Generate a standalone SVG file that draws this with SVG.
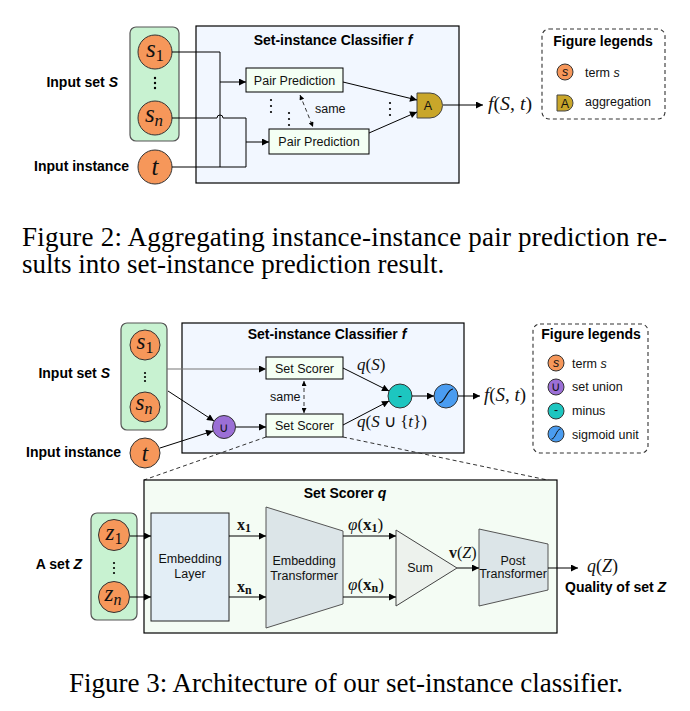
<svg xmlns="http://www.w3.org/2000/svg" width="690" height="711" viewBox="0 0 690 711">
<defs>
<marker id="ah" viewBox="0 0 10 10" refX="10" refY="5" markerWidth="8" markerHeight="7" markerUnits="userSpaceOnUse" orient="auto-start-reverse">
<path d="M0,0 L10,5 L0,10 Z" fill="#000"/>
</marker>
<marker id="ahs" viewBox="0 0 10 10" refX="10" refY="5" markerWidth="6" markerHeight="5" markerUnits="userSpaceOnUse" orient="auto-start-reverse">
<path d="M0,0 L10,5 L0,10 Z" fill="#000"/>
</marker>
</defs>
<style>
.lbl{font-family:"Liberation Sans",Arial,sans-serif;font-weight:bold;font-size:14px;fill:#000}
.t{font-family:"Liberation Sans",Arial,sans-serif;font-size:12.5px;fill:#111}
.m{font-family:"Liberation Serif","Times New Roman",serif;fill:#111}
.i{font-style:italic}
.cap{font-family:"Liberation Serif","Times New Roman",serif;font-size:27px;fill:#000}
.term{fill:#f6975a;stroke:#333;stroke-width:1}
.grp{fill:#c8f2d1;stroke:#555;stroke-width:1.2}
.box{fill:#f2f7ff;stroke:#000;stroke-width:1.2}
.pp{fill:#f4fff4;stroke:#000;stroke-width:1}
.leg{fill:#fff;stroke:#333;stroke-width:1.1;stroke-dasharray:4 3}
.ln{fill:none;stroke:#000;stroke-width:1}
.gl{fill:none;stroke:#777;stroke-width:1.2}
.dash{fill:none;stroke:#333;stroke-width:1;stroke-dasharray:4 3}
.dot{fill:#000}
.trap{fill:#dce5e8;stroke:#555;stroke-width:1}
</style>

<!-- ================= Figure 2 ================= -->
<g id="fig2-inputs">
<text class="lbl" x="118" y="87" text-anchor="end">Input set <tspan font-style="italic">S</tspan></text>
<text class="lbl" x="129" y="171" text-anchor="end">Input instance</text>
<rect class="grp" x="130" y="27" width="49" height="114" rx="6"/>
</g>
<g id="f2-s1"><circle class="term" cx="155" cy="52" r="17"/><text class="m" x="155" y="57" text-anchor="middle" font-size="25"><tspan class="i">s</tspan><tspan font-size="17" dy="4">1</tspan></text></g>
<g id="f2-dots"><circle class="dot" cx="155" cy="78" r="1.2"/><circle class="dot" cx="155" cy="83" r="1.2"/><circle class="dot" cx="155" cy="88" r="1.2"/></g>
<g id="f2-sn"><circle class="term" cx="155" cy="118" r="17"/><text class="m" x="154" y="122" text-anchor="middle" font-size="25"><tspan class="i">s</tspan><tspan class="i" font-size="17" dy="4">n</tspan></text></g>
<g id="f2-t"><circle class="term" cx="155" cy="167" r="17"/><text class="m i" x="155" y="175" text-anchor="middle" font-size="25">t</text></g>

<g id="f2-classifier">
<rect class="box" x="196" y="26" width="263" height="157"/>
<text class="lbl" x="333" y="45" text-anchor="middle" font-size="13.5">Set-instance Classifier <tspan font-style="italic">f</tspan></text>
</g>
<g id="f2-pp1"><rect class="pp" x="246" y="68" width="97" height="24"/><text class="t" x="294.5" y="85" text-anchor="middle" font-size="13">Pair Prediction</text></g>
<g id="f2-pp2"><rect class="pp" x="269" y="129" width="100" height="25"/><text class="t" x="319" y="146" text-anchor="middle" font-size="13">Pair Prediction</text></g>
<g id="f2-agg"><path d="M417,93 H430 A12.5,12.5 0 0 1 430,118 H417 Z" fill="#c9a62a" stroke="#444" stroke-width="1"/><text class="t" x="428" y="110" text-anchor="middle" font-size="13">A</text></g>
<g id="f2-out"><text class="m" x="488" y="110" font-size="19" textLength="44" lengthAdjust="spacingAndGlyphs"><tspan class="i">f</tspan>(<tspan class="i">S</tspan>, <tspan class="i">t</tspan>)</text></g>
<g id="f2-legend">
<rect class="leg" x="542" y="29" width="123" height="90" rx="7"/>
<text class="lbl" x="603" y="46" text-anchor="middle">Figure legends</text>
<circle class="term" cx="565" cy="72" r="8"/><text class="t i" x="565" y="76" text-anchor="middle" font-size="11">s</text>
<text class="t" x="585" y="77">term <tspan font-style="italic">s</tspan></text>
<path d="M557,95 H565 A8,8 0 0 1 565,111 H557 Z" fill="#c9a62a" stroke="#444" stroke-width="1"/><text class="t" x="565" y="107.5" text-anchor="middle" font-size="11">A</text>
<text class="t" x="585" y="106">aggregation</text>
</g>

<g id="f2-connectors">
<path class="ln" d="M172,52 H220 V167"/>
<path class="ln" d="M172,167 H246"/>
<path class="ln" d="M172,118 H217 A3,3 0 0 1 223,118 H246 V167"/>
<path class="ln" d="M220,82 H246" marker-end="url(#ah)"/>
<path class="ln" d="M246,142 H269" marker-end="url(#ah)"/>
<path class="ln" d="M343,82 L417,100" marker-end="url(#ah)"/>
<path class="ln" d="M369,133 L417,112" marker-end="url(#ah)"/>
<path class="ln" d="M443,105 H483" marker-end="url(#ah)"/>
<path class="dash" d="M300,95 L313,127" marker-start="url(#ahs)" marker-end="url(#ahs)"/>
<text class="t" x="315" y="113">same</text>
<g class="dot">
<circle cx="271" cy="100" r="1.1"/><circle cx="271" cy="106" r="1.1"/><circle cx="271" cy="112" r="1.1"/>
<circle cx="289" cy="113" r="1.1"/><circle cx="289" cy="119" r="1.1"/><circle cx="289" cy="125" r="1.1"/>
<circle cx="390" cy="103" r="1.1"/><circle cx="390" cy="109" r="1.1"/><circle cx="390" cy="115" r="1.1"/>
</g>
</g>

<g id="caption2">
<text class="cap" x="22" y="246" textLength="645" lengthAdjust="spacing">Figure 2: Aggregating instance-instance pair prediction re-</text>
<text class="cap" x="22" y="273">sults into set-instance prediction result.</text>
</g>

<!-- ================= Figure 3 ================= -->
<g id="f3-inputs">
<text class="lbl" x="110" y="378" text-anchor="end" font-size="13.5">Input set <tspan font-style="italic">S</tspan></text>
<text class="lbl" x="121" y="457" text-anchor="end" font-size="13.5">Input instance</text>
<rect class="grp" x="121" y="323" width="46" height="107" rx="6"/>
</g>
<g id="f3-s1"><circle class="term" cx="145" cy="345" r="15"/><text class="m" x="145" y="349" text-anchor="middle" font-size="23"><tspan class="i">s</tspan><tspan font-size="16" dy="4">1</tspan></text></g>
<g id="f3-dots"><circle class="dot" cx="145" cy="373" r="1.1"/><circle class="dot" cx="145" cy="377" r="1.1"/><circle class="dot" cx="145" cy="381" r="1.1"/></g>
<g id="f3-sn"><circle class="term" cx="145" cy="407" r="15"/><text class="m" x="144" y="410" text-anchor="middle" font-size="23"><tspan class="i">s</tspan><tspan class="i" font-size="16" dy="4">n</tspan></text></g>
<g id="f3-t"><circle class="term" cx="145" cy="453" r="15"/><text class="m i" x="145" y="461" text-anchor="middle" font-size="23">t</text></g>

<g id="f3-classifier">
<rect class="box" x="182" y="323" width="282" height="130"/>
<text class="lbl" x="327" y="339" text-anchor="middle" font-size="13">Set-instance Classifier <tspan font-style="italic">f</tspan></text>
</g>
<g id="f3-ss1"><rect class="pp" x="266" y="357" width="77" height="22"/><text class="t" x="304.5" y="372.5" text-anchor="middle" font-size="12">Set Scorer</text></g>
<g id="f3-ss2"><rect class="pp" x="266" y="414" width="77" height="23"/><text class="t" x="304.5" y="430" text-anchor="middle" font-size="12">Set Scorer</text></g>
<g id="f3-union"><circle cx="224" cy="427" r="11.5" fill="#9b6fd6" stroke="#333" stroke-width="1"/><text class="t" x="224" y="432" text-anchor="middle" font-size="14">∪</text></g>
<g id="f3-minus"><circle cx="400" cy="396" r="12" fill="#1dc6c0" stroke="#333" stroke-width="1"/><text class="t" x="400" y="400" text-anchor="middle" font-size="13">-</text></g>
<g id="f3-sigmoid"><circle cx="446" cy="396" r="12" fill="#4a9cf0" stroke="#333" stroke-width="1"/><path d="M439,403 C445,403 447,389 453,389" fill="none" stroke="#111" stroke-width="1.2"/></g>
<g id="f3-out"><text class="m" x="484" y="401" font-size="18" textLength="42" lengthAdjust="spacingAndGlyphs"><tspan class="i">f</tspan>(<tspan class="i">S</tspan>, <tspan class="i">t</tspan>)</text></g>
<g id="f3-legend">
<rect class="leg" x="533" y="324" width="115" height="129" rx="7"/>
<text class="lbl" x="591" y="339" text-anchor="middle" font-size="13.5">Figure legends</text>
<circle class="term" cx="556" cy="363" r="8"/><text class="t i" x="556" y="367" text-anchor="middle" font-size="10.5">s</text>
<text class="t" x="572" y="368" font-size="12">term <tspan font-style="italic">s</tspan></text>
<circle cx="556" cy="387" r="8" fill="#9b6fd6" stroke="#333" stroke-width="1"/><text class="t" x="556" y="391" text-anchor="middle" font-size="11">∪</text>
<text class="t" x="572" y="391" font-size="12">set union</text>
<circle cx="556" cy="411" r="8" fill="#1dc6c0" stroke="#333" stroke-width="1"/><text class="t" x="556" y="414" text-anchor="middle" font-size="11">-</text>
<text class="t" x="572" y="415" font-size="12">minus</text>
<circle cx="556" cy="434" r="8" fill="#4a9cf0" stroke="#333" stroke-width="1"/><path d="M551.5,439 C555.5,439 556.5,429 560.5,429" fill="none" stroke="#111" stroke-width="1"/>
<text class="t" x="572" y="439" font-size="12">sigmoid unit</text>
</g>

<g id="f3-connectors">
<path class="gl" d="M167,369 H266" marker-end="url(#ah)"/>
<path class="ln" d="M168,391 L214,421" marker-end="url(#ah)"/>
<path class="ln" d="M160,448 L213,431" marker-end="url(#ah)"/>
<path class="ln" d="M236,427 H266" marker-end="url(#ah)"/>
<path class="dash" d="M304,381 V413" marker-start="url(#ahs)" marker-end="url(#ahs)"/>
<text class="t" x="270" y="401" font-size="11.5">same</text>
<path class="ln" d="M343,368 L389,391" marker-end="url(#ah)"/>
<path class="ln" d="M343,425 L389,401" marker-end="url(#ah)"/>
<path class="ln" d="M412,396 H434" marker-end="url(#ah)"/>
<path class="ln" d="M458,396 H480" marker-end="url(#ah)"/>
<text class="m" x="357" y="370" font-size="17"><tspan class="i">q</tspan>(<tspan class="i">S</tspan>)</text>
<text class="m" x="357" y="427" font-size="17"><tspan class="i">q</tspan>(<tspan class="i">S</tspan> ∪ {<tspan class="i">t</tspan>})</text>
<path class="dash" d="M266,437 L144,480"/>
<path class="dash" d="M343,437 L557,482"/>
</g>

<g id="f3-scorer">
<rect x="144" y="480" width="413" height="153" fill="#f4fcf4" stroke="#000" stroke-width="1.2"/>
<text class="lbl" x="345" y="498" text-anchor="middle" font-size="13.5">Set Scorer <tspan font-style="italic">q</tspan></text>
</g>
<g id="f3-setZ">
<text class="lbl" x="82" y="569" text-anchor="end" font-size="13.5">A set <tspan font-style="italic">Z</tspan></text>
<rect class="grp" x="91" y="513" width="46" height="107" rx="6"/>
<circle class="term" cx="114" cy="535" r="15.5"/><text class="m" x="114" y="540" text-anchor="middle" font-size="23"><tspan class="i">z</tspan><tspan font-size="16" dy="4">1</tspan></text>
<circle class="dot" cx="114" cy="563" r="1.1"/><circle class="dot" cx="114" cy="568" r="1.1"/><circle class="dot" cx="114" cy="573" r="1.1"/>
<circle class="term" cx="114" cy="597" r="15.5"/><text class="m" x="113" y="601" text-anchor="middle" font-size="23"><tspan class="i">z</tspan><tspan class="i" font-size="16" dy="4">n</tspan></text>
</g>
<g id="f3-embed"><rect x="151" y="513" width="78" height="108" fill="#e3eef6" stroke="#222" stroke-width="1"/><text class="t" x="190" y="563" text-anchor="middle" font-size="12.5">Embedding</text><text class="t" x="190" y="577.5" text-anchor="middle" font-size="12.5">Layer</text></g>
<g id="f3-etrans"><polygon class="trap" points="266,507 343,531 343,604 266,628"/><text class="t" x="304" y="565" text-anchor="middle" font-size="12.5">Embedding</text><text class="t" x="304" y="580" text-anchor="middle" font-size="12.5">Transformer</text></g>
<g id="f3-sum"><polygon points="396,530 457,568 396,606" fill="#edf2ed" stroke="#444" stroke-width="1"/><text class="t" x="420" y="572" text-anchor="middle" font-size="12">Sum</text></g>
<g id="f3-ptrans"><polygon class="trap" points="479,529 548,544 548,590 479,606"/><text class="t" x="513" y="565" text-anchor="middle" font-size="11.5">Post</text><text class="t" x="513" y="578" text-anchor="middle" font-size="11.5">Transformer</text></g>
<g id="f3-qz">
<text class="m" x="587" y="572" font-size="18"><tspan class="i">q</tspan>(<tspan class="i">Z</tspan>)</text>
<text class="lbl" x="565" y="592" font-size="13.4">Quality of set <tspan font-style="italic">Z</tspan></text>
</g>
<g id="f3-scorer-connectors">
<path class="ln" d="M130,536 H151" marker-end="url(#ah)"/>
<path class="ln" d="M130,597 H151" marker-end="url(#ah)"/>
<path class="ln" d="M229,536 H266" marker-end="url(#ah)"/>
<path class="ln" d="M229,597 H266" marker-end="url(#ah)"/>
<path class="ln" d="M343,536 H396" marker-end="url(#ah)"/>
<path class="ln" d="M343,597 H396" marker-end="url(#ah)"/>
<path class="ln" d="M457,568 H479" marker-end="url(#ah)"/>
<path class="ln" d="M548,568 H578" marker-end="url(#ah)"/>
<text class="m" x="237" y="530" font-size="16" font-weight="bold">x<tspan font-size="12" dy="2">1</tspan></text>
<text class="m" x="237" y="592" font-size="16" font-weight="bold">x<tspan font-size="12" dy="2">n</tspan></text>
<text class="m" x="348" y="530" font-size="17"><tspan class="i">φ</tspan>(<tspan font-weight="bold">x</tspan><tspan font-size="12" font-weight="bold" dy="2">1</tspan><tspan dy="-2">)</tspan></text>
<text class="m" x="348" y="590" font-size="17"><tspan class="i">φ</tspan>(<tspan font-weight="bold">x</tspan><tspan font-size="12" font-weight="bold" dy="2">n</tspan><tspan dy="-2">)</tspan></text>
<text class="m" x="449" y="558" font-size="16"><tspan font-weight="bold">v</tspan>(<tspan class="i">Z</tspan>)</text>
</g>

<g id="caption3">
<text class="cap" x="346" y="692" text-anchor="middle">Figure 3: Architecture of our set-instance classifier.</text>
</g>
</svg>
